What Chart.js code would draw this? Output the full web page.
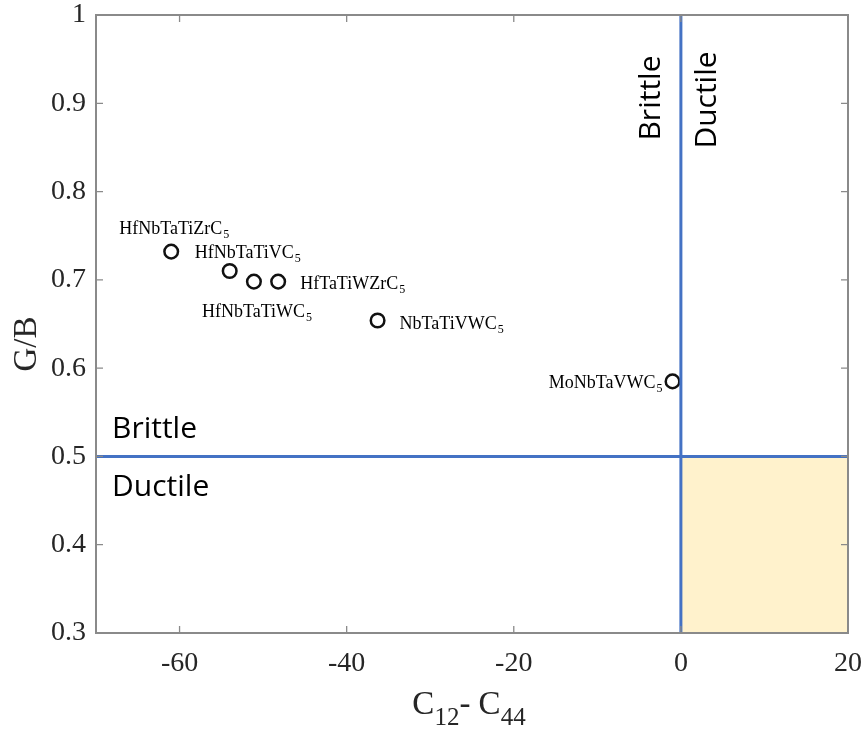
<!DOCTYPE html>
<html><head><meta charset="utf-8">
<script src="https://cdn.jsdelivr.net/npm/chart.js@4.4.1/dist/chart.umd.min.js"></script>
<style>html,body{margin:0;padding:0;background:#fff}</style>
</head><body>
<canvas id="c" width="867" height="730"></canvas>
<script>
// ---- data ----
const compounds   = ["HfNbTaTiZrC", "HfNbTaTiVC", "HfNbTaTiWC", "HfTaTiWZrC", "NbTaTiVWC", "MoNbTaVWC"];
const subscripts  = ["5", "5", "5", "5", "5", "5"];
const c12MinusC44 = [-61.0, -54.0, -51.1, -48.2, -36.3, -1.0];
const gOverB      = [0.732, 0.710, 0.698, 0.698, 0.654, 0.585];
const xTickValues = [-60, -40, -20, 0, 20];
const yTickValues = [0.3, 0.4, 0.5, 0.6, 0.7, 0.8, 0.9, 1];
const xLimits = [-70, 20];
const yLimits = [0.3, 1];
const criticalGB = 0.5;
const criticalCauchy = 0;
const regionTexts = {below: "Ductile", above: "Brittle", left: "Brittle", right: "Ductile"};

// ---- layout of point labels (pixel offsets from their point) ----
const labelOffsets = [
  {dx: -52, dy: -24, align: "left"},
  {dx: -35, dy: -19, align: "left"},
  {dx: -52, dy: 29, align: "left"},
  {dx: 22,  dy: 1,  align: "left"},
  {dx: 22,  dy: 3,  align: "left"},
  {dx: -10, dy: 1,  align: "right"}
];

const SERIF = '"Liberation Serif","Times New Roman",serif';
const SANS = '"Open Sans","Carlito",sans-serif';
const BLUE = '#4472C4';
const AXIS = '#8a8a8a';
const TXT = '#262626';

const decor = {
  id: 'decor',
  beforeDatasetsDraw(chart) {
    const {ctx, scales: {x, y}} = chart;
    ctx.save();
    ctx.fillStyle = '#FFF2CC';
    const x0 = x.getPixelForValue(criticalCauchy), x1 = x.getPixelForValue(xLimits[1]);
    const y0 = y.getPixelForValue(criticalGB), y1 = y.getPixelForValue(yLimits[0]);
    ctx.fillRect(x0, y0, x1 - x0, y1 - y0);
    ctx.restore();
  },
  afterDatasetsDraw(chart) {
    const {ctx, chartArea: a, scales: {x, y}} = chart;
    ctx.save();
    ctx.strokeStyle = BLUE;
    ctx.lineWidth = 3;
    const xv = x.getPixelForValue(criticalCauchy);
    const yh = y.getPixelForValue(criticalGB);
    ctx.beginPath(); ctx.moveTo(xv, a.top); ctx.lineTo(xv, a.bottom); ctx.stroke();
    ctx.beginPath(); ctx.moveTo(a.left, yh); ctx.lineTo(a.right, yh); ctx.stroke();

    // box + inward ticks
    ctx.strokeStyle = AXIS;
    ctx.lineWidth = 2;
    ctx.strokeRect(a.left, a.top, a.right - a.left, a.bottom - a.top);
    ctx.lineWidth = 1.3;
    const tl = 7;
    ctx.beginPath();
    xTickValues.forEach(v => {
      const px = x.getPixelForValue(v);
      ctx.moveTo(px, a.bottom); ctx.lineTo(px, a.bottom - tl);
      ctx.moveTo(px, a.top); ctx.lineTo(px, a.top + tl);
    });
    yTickValues.forEach(v => {
      const py = y.getPixelForValue(v);
      ctx.moveTo(a.left, py); ctx.lineTo(a.left + tl, py);
      ctx.moveTo(a.right, py); ctx.lineTo(a.right - tl, py);
    });
    ctx.stroke();

    // region texts
    ctx.fillStyle = '#000';
    ctx.font = '30px ' + SANS;
    ctx.textAlign = 'left';
    ctx.textBaseline = 'alphabetic';
    ctx.fillText(regionTexts.above, a.left + 16, yh - 18);
    ctx.fillText(regionTexts.below, a.left + 16, yh + 40);
    ctx.save();
    ctx.translate(xv - 29, a.top + 83);
    ctx.rotate(-Math.PI / 2);
    ctx.textAlign = 'center'; ctx.textBaseline = 'middle';
    ctx.fillText(regionTexts.left, 0, 0);
    ctx.restore();
    ctx.save();
    ctx.translate(xv + 27, a.top + 85);
    ctx.rotate(-Math.PI / 2);
    ctx.textAlign = 'center'; ctx.textBaseline = 'middle';
    ctx.fillText(regionTexts.right, 0, 0);
    ctx.restore();

    // point labels
    const meta = chart.getDatasetMeta(0);
    meta.data.forEach((pt, i) => {
      const o = labelOffsets[i];
      ctx.font = '18px ' + SERIF;
      const w1 = ctx.measureText(compounds[i]).width;
      ctx.font = '12px ' + SERIF;
      const w2 = ctx.measureText(subscripts[i]).width;
      let lx = pt.x + o.dx;
      if (o.align === 'right') lx -= (w1 + w2 + 1);
      const ly = pt.y + o.dy + 6;
      ctx.textAlign = 'left'; ctx.textBaseline = 'alphabetic';
      ctx.fillStyle = '#000';
      ctx.font = '18px ' + SERIF;
      ctx.fillText(compounds[i], lx, ly);
      ctx.font = '12px ' + SERIF;
      ctx.fillText(subscripts[i], lx + w1 + 1, ly + 4);
    });

    // axis titles
    ctx.fillStyle = TXT;
    const parts = [["C", 33, 0], ["12", 25, 11], ["- C", 33, 0], ["44", 25, 11]];
    let total = 0;
    parts.forEach(p => { ctx.font = p[1] + 'px ' + SERIF; total += ctx.measureText(p[0]).width; });
    let cx = (a.left + a.right) / 2 - total / 2 - 3;
    parts.forEach(p => {
      ctx.font = p[1] + 'px ' + SERIF;
      ctx.fillText(p[0], cx, 714 + p[2]);
      cx += ctx.measureText(p[0]).width;
    });
    ctx.save();
    ctx.translate(27, (a.top + a.bottom) / 2 + 20);
    ctx.rotate(-Math.PI / 2);
    ctx.textAlign = 'center'; ctx.textBaseline = 'middle';
    ctx.font = '33px ' + SERIF;
    ctx.fillText('G/B', 0, 0);
    ctx.restore();
    ctx.restore();
  }
};

new Chart(document.getElementById('c'), {
  type: 'scatter',
  data: {
    datasets: [{
      data: c12MinusC44.map((v, i) => ({x: v, y: gOverB[i]})),
      pointStyle: 'circle',
      pointRadius: 6.8,
      pointBorderWidth: 2.5,
      pointBorderColor: '#111',
      pointBackgroundColor: 'rgba(0,0,0,0)',
      showLine: false
    }]
  },
  options: {
    responsive: false,
    animation: false,
    devicePixelRatio: 1,
    layout: {padding: {left: 0, top: 15, right: 19, bottom: 0}},
    plugins: {legend: {display: false}, tooltip: {enabled: false}},
    scales: {
      x: {
        type: 'linear', min: xLimits[0], max: xLimits[1],
        afterFit(s) { s.height = 97; s.paddingLeft = 0; s.paddingRight = 0; },
        afterBuildTicks(s) { s.ticks = xTickValues.map(v => ({value: v})); },
        grid: {display: false, drawTicks: false},
        border: {display: false},
        ticks: {font: {family: SERIF, size: 28}, color: TXT, padding: 14, maxRotation: 0,
          callback: v => String(v)}
      },
      y: {
        type: 'linear', min: yLimits[0], max: yLimits[1],
        afterFit(s) { s.width = 96; s.paddingTop = 0; s.paddingBottom = 0; },
        afterBuildTicks(s) { s.ticks = yTickValues.map(v => ({value: v})); },
        grid: {display: false, drawTicks: false},
        border: {display: false},
        ticks: {font: {family: SERIF, size: 28}, color: TXT, padding: 10,
          callback: v => String(Math.round(v * 10) / 10)}
      }
    }
  },
  plugins: [decor]
});
</script>
</body></html>
